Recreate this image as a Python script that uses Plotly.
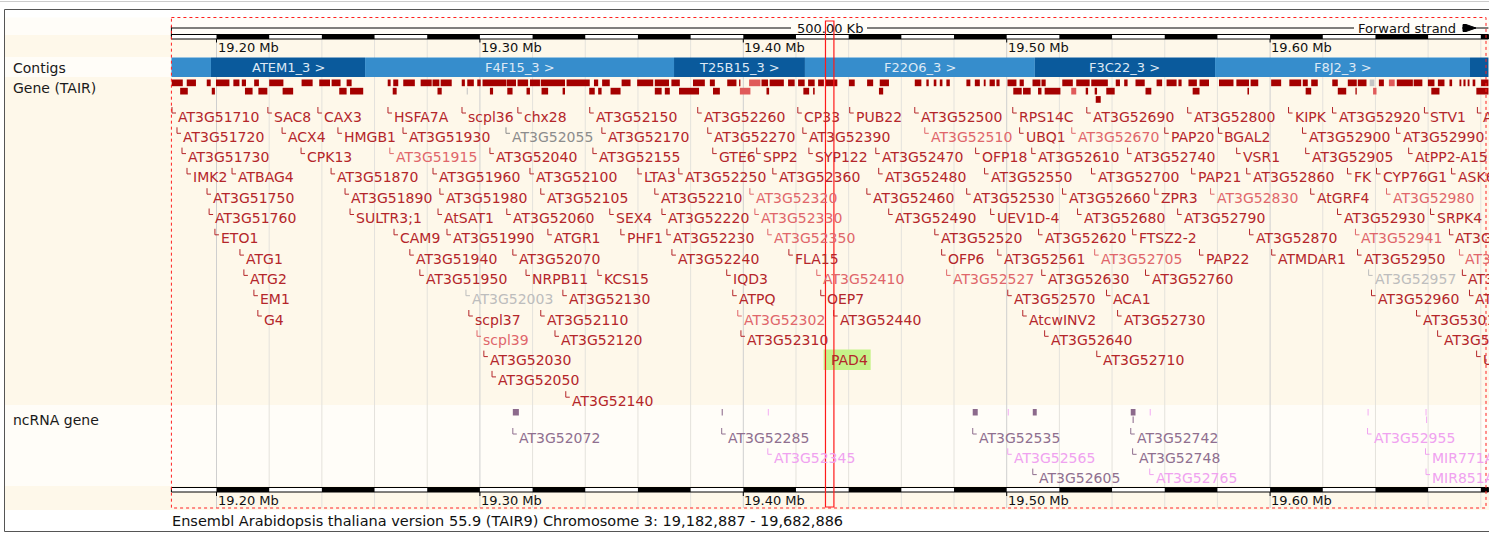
import plotly.graph_objects as go

# ---------------- genomic window (chromosome 3, kb) ----------------
REGION_START = 19182.887
REGION_END = 19682.886
MAJOR_TICKS = [19200, 19300, 19400, 19500, 19600]
GRID_STEP = 20

# ---------------- contigs ----------------
CONTIG_NAMES = ["", "ATEM1_3 >", "F4F15_3 >", "T25B15_3 >", "F22O6_3 >", "F3C22_3 >", "F8J2_3 >", ""]
CONTIG_STARTS = [19182.9, 19197.9, 19256.4, 19373.7, 19423.4, 19510.7, 19579.1, 19675.9]
CONTIG_ENDS = [19197.9, 19256.4, 19373.7, 19423.4, 19510.7, 19579.1, 19675.9, 19682.9]

# ---------------- TAIR gene labels (k = known, n = novel, g = other, h = grey light) ----------------
GENE_NAMES = [
    "AT3G51710", "SAC8", "CAX3", "HSFA7A", "scpl36", "chx28", "AT3G52150", "AT3G52260", "CP33", "PUB22",
    "AT3G52500", "RPS14C", "AT3G52690", "AT3G52800", "KIPK", "AT3G52920", "STV1", "AT3G53070",
    "AT3G51720", "ACX4", "HMGB1", "AT3G51930", "AT3G52055", "AT3G52170", "AT3G52270", "AT3G52390",
    "AT3G52510", "UBQ1", "AT3G52670", "PAP20", "BGAL2", "AT3G52900", "AT3G52990",
    "AT3G51730", "CPK13", "AT3G51915", "AT3G52040", "AT3G52155", "GTE6", "SPP2", "SYP122", "AT3G52470",
    "OFP18", "AT3G52610", "AT3G52740", "VSR1", "AT3G52905", "AtPP2-A15",
    "IMK2", "ATBAG4", "AT3G51870", "AT3G51960", "AT3G52100", "LTA3", "AT3G52250", "AT3G52360", "AT3G52480",
    "AT3G52550", "AT3G52700", "PAP21", "AT3G52860", "FK", "CYP76G1", "ASK6",
    "AT3G51750", "AT3G51890", "AT3G51980", "AT3G52105", "AT3G52210", "AT3G52320", "AT3G52460", "AT3G52530",
    "AT3G52660", "ZPR3", "AT3G52830", "AtGRF4", "AT3G52980",
    "AT3G51760", "SULTR3;1", "AtSAT1", "AT3G52060", "SEX4", "AT3G52220", "AT3G52330", "AT3G52490",
    "UEV1D-4", "AT3G52680", "AT3G52790", "AT3G52930", "SRPK4",
    "ETO1", "CAM9", "AT3G51990", "ATGR1", "PHF1", "AT3G52230", "AT3G52350", "AT3G52520", "AT3G52620",
    "FTSZ2-2", "AT3G52870", "AT3G52941", "AT3G53040",
    "ATG1", "AT3G51940", "AT3G52070", "AT3G52240", "FLA15", "OFP6", "AT3G52561", "AT3G52705", "PAP22",
    "ATMDAR1", "AT3G52950", "AT3G53050",
    "ATG2", "AT3G51950", "NRPB11", "KCS15", "IQD3", "AT3G52410", "AT3G52527", "AT3G52630", "AT3G52760",
    "AT3G52957", "AT3G53065",
    "EM1", "AT3G52003", "AT3G52130", "ATPQ", "OEP7", "AT3G52570", "ACA1", "AT3G52960", "AT3G53080",
    "G4", "scpl37", "AT3G52110", "AT3G52302", "AT3G52440", "AtcwINV2", "AT3G52730", "AT3G53010",
    "scpl39", "AT3G52120", "AT3G52310", "AT3G52640", "AT3G53030",
    "AT3G52030", "PAD4", "AT3G52710", "UBP",
    "AT3G52050",
    "AT3G52140",
]
GENE_STARTS = [
    19183.1, 19219.5, 19238.5, 19265.1, 19293.2, 19314.4, 19341.7, 19382.7, 19420.7, 19440.4,
    19465.1, 19502.3, 19530.4, 19568.7, 19607.0, 19623.7, 19658.6, 19678.7,
    19185.0, 19224.9, 19246.1, 19270.8, 19309.9, 19346.3, 19386.5, 19422.6,
    19468.9, 19504.9, 19524.7, 19560.0, 19580.4, 19612.3, 19648.0,
    19186.9, 19232.1, 19265.8, 19303.8, 19342.9, 19388.4, 19405.1, 19424.9, 19450.3,
    19488.2, 19509.5, 19545.9, 19587.3, 19613.5, 19652.6,
    19188.8, 19205.9, 19243.5, 19282.2, 19319.0, 19360.0, 19375.5, 19411.2, 19451.4,
    19491.6, 19532.2, 19570.2, 19591.1, 19629.4, 19640.4, 19668.9,
    19196.4, 19248.8, 19284.8, 19323.1, 19366.4, 19402.5, 19446.9, 19484.8,
    19521.2, 19556.2, 19577.4, 19615.4, 19644.2,
    19197.2, 19250.7, 19284.1, 19310.2, 19349.3, 19369.1, 19404.4, 19455.2,
    19493.9, 19526.9, 19564.9, 19625.6, 19660.9,
    19199.4, 19267.4, 19287.5, 19325.8, 19353.5, 19371.0, 19409.3, 19472.7, 19512.1,
    19547.8, 19592.2, 19632.4, 19668.1,
    19208.9, 19273.4, 19312.5, 19372.9, 19417.3, 19475.3, 19496.6, 19533.4, 19573.2,
    19600.6, 19633.2, 19671.9,
    19210.4, 19277.2, 19317.5, 19344.8, 19393.7, 19427.9, 19477.2, 19513.3, 19552.7,
    19637.4, 19673.0,
    19214.2, 19294.7, 19331.5, 19396.0, 19429.4, 19500.4, 19537.9, 19638.5, 19675.7,
    19215.7, 19295.8, 19323.1, 19397.9, 19434.3, 19506.1, 19542.1, 19655.6,
    19298.9, 19328.5, 19399.1, 19514.4, 19663.6,
    19301.5, 19430.9, 19534.2, 19678.4,
    19304.6,
    19332.6,
]
GENE_ROWS = (
    [0] * 18 + [1] * 15 + [2] * 15 + [3] * 16 + [4] * 13 + [5] * 13 + [6] * 13
    + [7] * 12 + [8] * 11 + [9] * 9 + [10] * 8 + [11] * 5 + [12] * 4 + [13] + [14]
)
GENE_STATUS = [
    "k"] * 18 + [
    "k", "k", "k", "k", "g", "k", "k", "k", "n", "k", "n", "k", "k", "k", "k",
    "k", "k", "n", "k", "k", "k", "k", "k", "k", "k", "k", "k", "k", "k", "k",
    "k", "k", "k", "k", "k", "k", "k", "k", "k", "k", "k", "k", "k", "k", "k", "k",
    "k", "k", "k", "k", "k", "n", "k", "k", "k", "k", "n", "k", "n",
    "k", "k", "k", "k", "k", "k", "n", "k", "k", "k", "k", "k", "k",
    "k", "k", "k", "k", "k", "k", "n", "k", "k", "k", "k", "n", "k",
    "k", "k", "k", "k", "k", "k", "k", "n", "k", "k", "k", "n",
    "k", "k", "k", "k", "k", "n", "n", "k", "k", "h", "k",
    "k", "h", "k", "k", "k", "k", "k", "k", "k",
    "k", "k", "k", "n", "k", "k", "k", "k",
    "n", "k", "k", "k", "k",
    "k", "k", "k", "k",
    "k",
    "k",
]
HIGHLIGHT_GENE = "PAD4"

# ---------------- TAIR gene bars (start kb, end kb, lane) ----------------
BAR_STARTS = [
    19183.0, 19188.7, 19196.3, 19199.8, 19206.4, 19209.6, 19214.3, 19220.0, 19232.3, 19239.0,
    19243.7, 19249.4, 19265.0, 19267.1, 19270.9, 19277.5, 19282.0, 19285.1, 19293.1, 19295.2,
    19299.0, 19301.0, 19310.1, 19314.3, 19319.0, 19323.1, 19332.9, 19343.3, 19346.4, 19353.8,
    19359.7, 19366.4, 19372.7, 19380.9, 19387.3, 19393.9, 19398.4, 19402.2, 19406.9, 19410.0,
    19417.0, 19420.8, 19424.6, 19428.4, 19431.3, 19440.1, 19447.0, 19451.8, 19465.1, 19469.5,
    19472.3, 19474.6, 19477.1, 19484.7, 19487.9, 19491.3, 19493.5, 19496.1, 19500.3, 19504.9,
    19509.8, 19513.2, 19521.1, 19526.4, 19532.1, 19541.4, 19544.6, 19548.9, 19556.9, 19560.7,
    19565.2, 19569.0, 19573.2, 19580.6, 19587.2, 19592.6, 19600.4, 19607.3, 19612.4, 19615.6,
    19623.6, 19629.5, 19633.3, 19637.8, 19641.3, 19645.1, 19648.1, 19654.5, 19659.9, 19663.7,
    19668.1, 19671.9, 19673.4, 19675.0, 19676.9, 19680.1,
    19186.2, 19198.2, 19210.8, 19215.9, 19225.1, 19246.6, 19250.7, 19266.9, 19283.9, 19295.0,
    19303.8, 19310.4, 19317.7, 19323.4, 19331.4, 19341.5, 19344.9, 19349.6, 19366.4, 19370.2,
    19375.6, 19388.5, 19398.7, 19408.8, 19422.8, 19426.5, 19451.5, 19502.5, 19506.2, 19511.9,
    19514.4, 19524.5, 19530.0, 19533.4, 19537.8, 19552.7, 19570.6, 19591.4, 19613.5, 19625.7,
    19632.4, 19639.1, 19661.2, 19678.3,
    19533.8,
]
BAR_ENDS = [
    19187.2, 19192.2, 19197.8, 19204.9, 19208.7, 19211.2, 19216.1, 19225.4, 19236.5, 19243.1,
    19247.1, 19251.3, 19266.1, 19269.0, 19275.3, 19281.7, 19284.6, 19289.3, 19294.3, 19297.7,
    19300.3, 19309.9, 19313.7, 19318.3, 19322.8, 19332.3, 19341.7, 19344.9, 19349.3, 19357.2,
    19365.8, 19371.8, 19375.9, 19385.4, 19389.2, 19397.4, 19398.9, 19406.5, 19409.4, 19415.4,
    19419.5, 19423.3, 19427.1, 19430.6, 19435.7, 19442.3, 19449.3, 19455.3, 19467.6, 19470.4,
    19473.3, 19475.6, 19478.4, 19486.2, 19489.8, 19492.0, 19495.5, 19497.3, 19503.7, 19506.5,
    19512.8, 19514.8, 19525.1, 19531.5, 19538.4, 19543.0, 19545.9, 19552.4, 19559.0, 19564.5,
    19566.4, 19572.2, 19576.8, 19586.1, 19592.0, 19595.5, 19604.2, 19611.8, 19614.3, 19618.1,
    19625.7, 19632.9, 19636.6, 19639.6, 19643.2, 19647.3, 19654.2, 19657.8, 19662.4, 19666.2,
    19669.1, 19672.6, 19674.2, 19675.7, 19677.9, 19682.9,
    19189.1, 19199.4, 19213.7, 19219.3, 19229.1, 19249.4, 19255.7, 19268.4, 19285.5, 19295.4,
    19305.0, 19312.4, 19319.0, 19325.9, 19332.3, 19343.6, 19346.2, 19353.4, 19369.0, 19372.1,
    19383.2, 19391.1, 19402.7, 19409.8, 19425.0, 19427.1, 19453.1, 19505.7, 19509.1, 19513.2,
    19520.4, 19526.4, 19530.9, 19534.3, 19541.0, 19554.9, 19573.2, 19592.0, 19615.6, 19628.9,
    19632.9, 19640.4, 19664.3, 19682.9,
    19535.7,
]
BAR_LANES = [0] * 96 + [1] * 44 + [2]
BAR_STATUS = (
    ["k"] * 37 + ["n"] + ["k"] * 45 + ["h"] + ["k"] + ["n"] + ["k"] * 10
    + ["k"] * 9 + ["h"] + ["k"] * 12 + ["n"] + ["k"] * 8 + ["n"] + ["k"] * 9 + ["n"] + ["k"] * 3
    + ["k"]
)

# ---------------- ncRNA genes ----------------
NC_NAMES = ["AT3G52072", "AT3G52285", "AT3G52345", "AT3G52535", "AT3G52565", "AT3G52605",
            "AT3G52742", "AT3G52748", "AT3G52765", "AT3G52955", "MIR771A", "MIR851A"]
NC_STARTS = [19312.5, 19391.8, 19409.3, 19487.1, 19500.4, 19509.9,
             19547.1, 19547.8, 19554.3, 19637.0, 19659.0, 19659.2]
NC_ENDS = [19314.8, 19392.2, 19409.7, 19489.0, 19500.8, 19511.4,
           19548.9, 19548.2, 19554.7, 19637.4, 19659.4, 19659.6]
NC_ROWS = [0, 0, 1, 0, 1, 2, 0, 1, 2, 0, 1, 2]
NC_LANES = [0, 0, 0, 0, 0, 0, 0, 1, 0, 0, 0, 1]
NC_STATUS = ["d", "d", "l", "d", "l", "d", "d", "d", "l", "l", "l", "l"]

# ---------------- page geometry / styles ----------------
W, H = 1489, 533
PX_PER_KB = 2.634
X_LEFT = 19200 - 216.5 / PX_PER_KB
X_RIGHT = X_LEFT + W / PX_PER_KB
FONT = "DejaVu Sans"

GENE_TEXT = {"k": "#b4262a", "n": "#e0666a", "g": "#8c8c8c", "h": "#bdbdbd"}
GENE_FILL = {"k": "#a50000", "n": "#e05a5a", "g": "#9a9a9a", "h": "#c4c4c4"}
NC_TEXT = {"d": "#8f6f8f", "l": "#f0a2f0"}
NC_FILL = {"d": "#8c6a8c", "l": "#f4b0f4"}

LABEL_Y0, ROW_STEP = 116.5, 20.3
NC_Y0 = 437.5
LANE_Y0, LANE_STEP, LANE_H = 79.5, 8.3, 6.7
NC_LANE_Y0, NC_LANE_STEP, NC_LANE_H = 409, 7.5, 6.5


def kb(px):
    return X_LEFT + px / PX_PER_KB


fig = go.Figure()
shapes, annotations = [], []

# horizontal track bands
BANDS = [
    (9.5, 17.5, "#ffffff"), (17.5, 35, "#fffdf8"), (35, 57, "#fef8ea"), (57, 77, "#fffdf8"),
    (77, 405, "#fef8ea"), (405, 486, "#fffdf8"), (486, 510, "#fef8ea"), (510, 530.5, "#ffffff"),
]
for y0, y1, c in BANDS:
    shapes.append(dict(type="rect", xref="paper", yref="y", x0=0.003, x1=1, y0=y0, y1=y1,
                       fillcolor=c, line_width=0, layer="below"))

# vertical grid
g = MAJOR_TICKS[0] - GRID_STEP
while g > REGION_START:
    g -= GRID_STEP
g += GRID_STEP
while g < REGION_END:
    major = (round(g) % 100) == 0
    shapes.append(dict(type="line", xref="x", yref="y", x0=g, x1=g, y0=39, y1=508,
                       line=dict(color="#cfcfcf" if major else "#e4e2dc", width=1), layer="below"))
    g += GRID_STEP


def ruler(ytop, ybot, tick_y0, tick_y1, label_y):
    shapes.append(dict(type="rect", xref="x", yref="y", x0=REGION_START, x1=REGION_END,
                       y0=ytop, y1=ybot, fillcolor="#ffffff", line=dict(color="#000000", width=1)))
    start = MAJOR_TICKS[0]
    i = 0
    s = start
    while s < REGION_END:
        if i % 2 == 0:
            shapes.append(dict(type="rect", xref="x", yref="y", x0=s, x1=min(s + GRID_STEP, REGION_END),
                               y0=ytop, y1=ybot, fillcolor="#000000", line_width=0))
        s += GRID_STEP
        i += 1
    for t in MAJOR_TICKS:
        shapes.append(dict(type="line", xref="x", yref="y", x0=t, x1=t, y0=ybot, y1=tick_y1,
                           line=dict(color="#000000", width=1)))
        annotations.append(dict(x=t, y=label_y, xref="x", yref="y", text=f"{t / 1000:.2f} Mb",
                                xanchor="left", yanchor="middle", showarrow=False, xshift=-1,
                                font=dict(family=FONT, size=13, color="#111111")))


ruler(34.5, 39, 39, 42.5, 47.5)
ruler(487.5, 492, 492, 496, 500.5)

# top scale line with region length and strand
mid = (REGION_START + REGION_END) / 2
shapes += [
    dict(type="line", xref="x", yref="y", x0=REGION_START, x1=kb(791), y0=28, y1=28, line=dict(color="#000", width=1)),
    dict(type="line", xref="x", yref="y", x0=kb(867), x1=kb(1354), y0=28, y1=28, line=dict(color="#000", width=1)),
    dict(type="line", xref="x", yref="y", x0=kb(1462), x1=REGION_END, y0=28, y1=28, line=dict(color="#000", width=1)),
    dict(type="line", xref="x", yref="y", x0=REGION_START, x1=REGION_START, y0=26, y1=36, line=dict(color="#000", width=1)),
    dict(type="path", xref="x", yref="y",
         path=f"M{kb(1463)},24.5 L{kb(1463)},31.5 L{kb(1466)},31.5 L{kb(1476)},28 L{kb(1466)},24.5 Z",
         fillcolor="#000", line=dict(color="#000", width=1)),
]
annotations.append(dict(x=mid, y=28, xref="x", yref="y", text=f"{REGION_END - REGION_START:.2f} Kb",
                        xanchor="center", yanchor="middle", showarrow=False,
                        font=dict(family=FONT, size=13, color="#111")))
annotations.append(dict(x=kb(1458), y=28, xref="x", yref="y", text="Forward strand",
                        xanchor="right", yanchor="middle", showarrow=False,
                        font=dict(family=FONT, size=13, color="#111")))

# contigs
for i, (name, s, e) in enumerate(zip(CONTIG_NAMES, CONTIG_STARTS, CONTIG_ENDS)):
    col = "#0a5a9c" if i % 2 else "#368dcc"
    shapes.append(dict(type="rect", xref="x", yref="y", x0=s, x1=e, y0=57.5, y1=77,
                       fillcolor=col, line_width=0))
    if name:
        annotations.append(dict(x=(s + e) / 2, y=67.5, xref="x", yref="y", text=name, showarrow=False,
                                xanchor="center", yanchor="middle",
                                font=dict(family=FONT, size=13, color="#dde9f5")))

# gene bars
min_w = 1.0 / PX_PER_KB
for s, e, lane, st in zip(BAR_STARTS, BAR_ENDS, BAR_LANES, BAR_STATUS):
    y0 = LANE_Y0 + lane * LANE_STEP
    shapes.append(dict(type="rect", xref="x", yref="y", x0=s, x1=max(e, s + min_w), y0=y0, y1=y0 + LANE_H,
                       fillcolor=GENE_FILL[st], line_width=0))

# gene labels with start markers
arm = 4.0 / PX_PER_KB
mk = {}
for name, s, r, st in zip(GENE_NAMES, GENE_STARTS, GENE_ROWS, GENE_STATUS):
    yc = LABEL_Y0 + r * ROW_STEP
    if name == HIGHLIGHT_GENE:
        shapes.append(dict(type="rect", xref="x", yref="y", x0=s - 0.4, x1=s + 46 / PX_PER_KB,
                           y0=yc - 10.5, y1=yc + 10, fillcolor="#c6f28a", line_width=0))
    xs, ys = mk.setdefault(st, ([], []))
    xs += [s, s, s + arm, None]
    ys += [yc - 9.5, yc - 3.5, yc - 3.5, None]
    annotations.append(dict(x=s, y=yc, xref="x", yref="y", text=name, showarrow=False,
                            xanchor="left", yanchor="middle", xshift=4,
                            font=dict(family=FONT, size=14, color=GENE_TEXT[st])))
for st, (xs, ys) in mk.items():
    fig.add_trace(go.Scatter(x=xs, y=ys, mode="lines", line=dict(color=GENE_TEXT[st], width=1),
                             hoverinfo="skip", showlegend=False))

# ncRNA genes
mk = {}
for name, s, e, r, lane, st in zip(NC_NAMES, NC_STARTS, NC_ENDS, NC_ROWS, NC_LANES, NC_STATUS):
    y0 = NC_LANE_Y0 + lane * NC_LANE_STEP
    shapes.append(dict(type="rect", xref="x", yref="y", x0=s, x1=max(e, s + min_w), y0=y0, y1=y0 + NC_LANE_H,
                       fillcolor=NC_FILL[st], line_width=0))
    yc = NC_Y0 + r * ROW_STEP
    xs, ys = mk.setdefault(st, ([], []))
    xs += [s, s, s + arm, None]
    ys += [yc - 9.5, yc - 3.5, yc - 3.5, None]
    annotations.append(dict(x=s, y=yc, xref="x", yref="y", text=name, showarrow=False,
                            xanchor="left", yanchor="middle", xshift=4,
                            font=dict(family=FONT, size=14, color=NC_TEXT[st])))
for st, (xs, ys) in mk.items():
    fig.add_trace(go.Scatter(x=xs, y=ys, mode="lines", line=dict(color=NC_TEXT[st], width=1),
                             hoverinfo="skip", showlegend=False))

# track names
for text, y in [("Contigs", 67.5), ("Gene (TAIR)", 87.5), ("ncRNA gene", 420)]:
    annotations.append(dict(x=11 / W, y=y, xref="paper", yref="y", text=text, showarrow=False,
                            xanchor="left", yanchor="middle", font=dict(family=FONT, size=14, color="#1a1a1a")))

# region outline and highlighted locus
shapes.append(dict(type="rect", xref="x", yref="y", x0=REGION_START, x1=kb(1486), y0=17.5, y1=508,
                   line=dict(color="#ff2020", width=1, dash="dot"), fillcolor="rgba(0,0,0,0)"))
shapes.append(dict(type="rect", xref="x", yref="y", x0=19431.2, x1=19434.4, y0=21, y1=507,
                   line=dict(color="#ff1a1a", width=1.2), fillcolor="rgba(0,0,0,0)"))

# frame
shapes.append(dict(type="line", xref="paper", yref="y", x0=0, x1=1, y0=1.5, y1=1.5,
                   line=dict(color="#cccccc", width=1)))
shapes.append(dict(type="rect", xref="paper", yref="y", x0=4.5 / W, x1=1.2, y0=9.5, y1=531.5,
                   line=dict(color="#555555", width=1), fillcolor="rgba(0,0,0,0)"))

annotations.append(dict(x=REGION_START, y=520.5, xref="x", yref="y",
                        text="Ensembl Arabidopsis thaliana version 55.9 (TAIR9) Chromosome 3: "
                             f"{round(REGION_START * 1000):,} - {round(REGION_END * 1000):,}",
                        showarrow=False, xanchor="left", yanchor="middle", xshift=-1,
                        font=dict(family=FONT, size=14.5, color="#111")))

fig.update_layout(
    width=W, height=H, margin=dict(l=0, r=0, t=0, b=0),
    paper_bgcolor="#ffffff", plot_bgcolor="rgba(0,0,0,0)",
    xaxis=dict(range=[X_LEFT, X_RIGHT], visible=False, fixedrange=True),
    yaxis=dict(range=[H, 0], visible=False, fixedrange=True),
    shapes=shapes, annotations=annotations, showlegend=False,
)
fig.write_html("out.html", config={"displayModeBar": False})
